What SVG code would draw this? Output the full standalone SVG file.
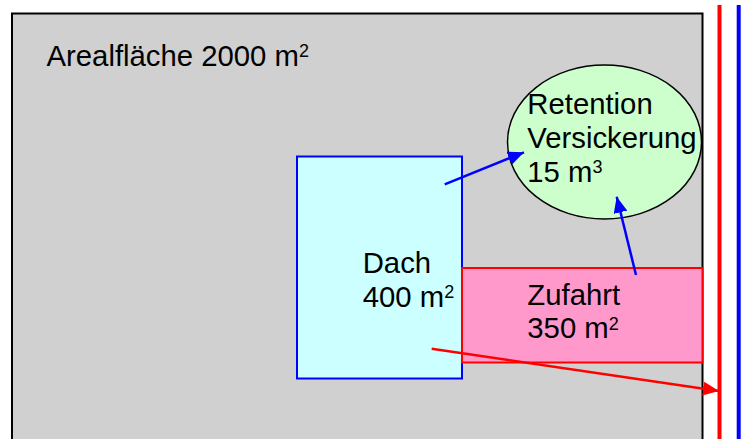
<svg xmlns="http://www.w3.org/2000/svg" width="750" height="439" viewBox="0 0 750 439">
<style>
text{font-family:"Liberation Sans",Arial,sans-serif;font-size:29.3px;fill:#000}
.sup{font-size:18px}
.blue{stroke:#0000ff;stroke-width:2.5;fill:none}
.red{stroke:#ff0000;stroke-width:2.5;fill:none}
</style>
<defs>
<marker id="ab" markerUnits="userSpaceOnUse" markerWidth="18" markerHeight="14" refX="16" refY="7" orient="auto"><path d="M0,0 L16,7 L0,14 Z" fill="#0000ff"/></marker>
<marker id="ar" markerUnits="userSpaceOnUse" markerWidth="18" markerHeight="14" refX="16" refY="7" orient="auto"><path d="M0,0 L16,7 L0,14 Z" fill="#ff0000"/></marker>
</defs>
<rect width="750" height="439" fill="#ffffff"/>
<g id="areal">
<rect x="12" y="13.5" width="690.5" height="440" fill="#d0d0d0" stroke="#000" stroke-width="2"/>
<text x="46.5" y="65.5">Arealfläche 2000 m<tspan class="sup" dy="-8.5">2</tspan></text>
</g>
<g id="leitungen">
<line x1="719.5" y1="5" x2="719.5" y2="439" stroke="#ff0000" stroke-width="4"/>
<line x1="738.7" y1="5" x2="738.7" y2="439" stroke="#0000ff" stroke-width="4"/>
</g>
<g id="retention">
<ellipse cx="604.5" cy="142" rx="97" ry="77" fill="#ccffcc" stroke="#000" stroke-width="1.5"/>
<text x="527.3" y="114">Retention</text>
<text x="527.3" y="147.5">Versickerung</text>
<text x="527.3" y="181.5">15 m<tspan class="sup" dy="-8.5">3</tspan></text>
</g>
<g id="dach">
<rect x="297" y="156.5" width="165" height="222" fill="#ccffff" stroke="#0000ff" stroke-width="2"/>
<text x="362.7" y="272.7">Dach</text>
<text x="362.7" y="306.7">400 m<tspan class="sup" dy="-8.5">2</tspan></text>
</g>
<g id="zufahrt">
<rect x="462" y="268" width="240.5" height="94.5" fill="#ff99cc" stroke="#ff0000" stroke-width="2"/>
<text x="527.3" y="305">Zufahrt</text>
<text x="527.3" y="338.3">350 m<tspan class="sup" dy="-8.5">2</tspan></text>
</g>
<g id="connectors">
<line class="blue" x1="444.7" y1="184.3" x2="524" y2="152.3" marker-end="url(#ab)"/>
<line class="blue" x1="636" y1="275" x2="616.7" y2="196.7" marker-end="url(#ab)"/>
<line class="red" x1="431.7" y1="348.7" x2="719" y2="391" marker-end="url(#ar)"/>
</g>
</svg>
